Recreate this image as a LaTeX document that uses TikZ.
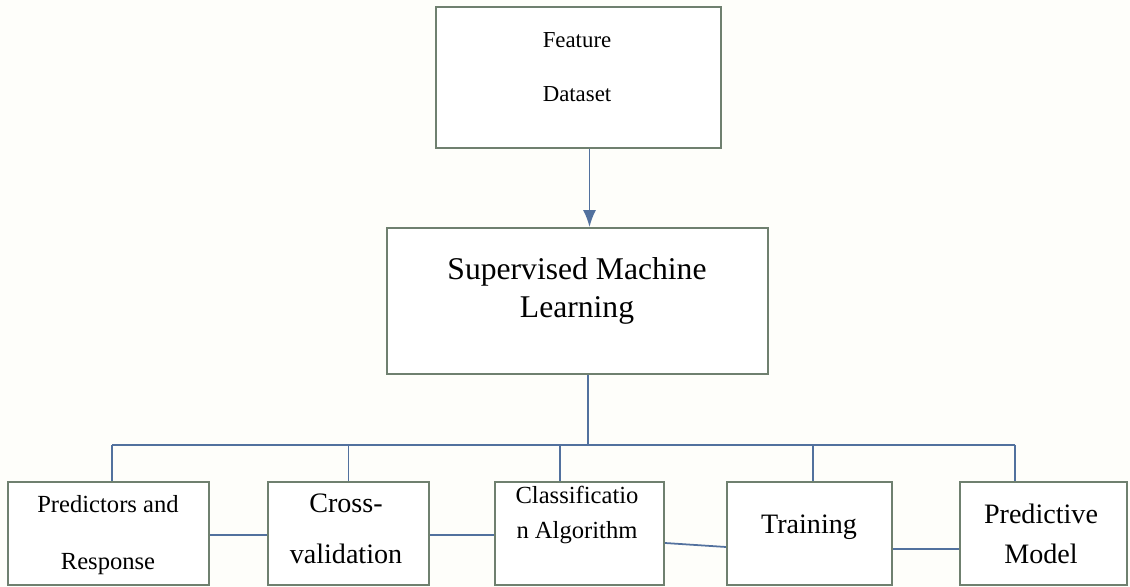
\documentclass[tikz,border=0pt]{standalone}
\usepackage{fontspec}
\setmainfont{Liberation Serif}
\usepackage{tikz}
\usetikzlibrary{arrows,arrows.meta,positioning,calc}
\pgfdeclarelayer{bg}
\pgfsetlayers{bg,main}
\definecolor{boxline}{HTML}{6F806F}
\definecolor{linkline}{HTML}{52719E}
\definecolor{paper}{HTML}{FEFEFA}

\begin{document}
\begin{tikzpicture}[x=0.02cm,y=-0.02cm,
    box/.style={draw=boxline,line width=1.1pt,fill=white,inner sep=0pt},
    txt/.style={align=center,inner sep=0pt},
    link/.style={draw=linkline,line width=1pt}]
    \useasboundingbox (0,0) rectangle (1130,587);

    % boxes
    \node [box,minimum width=5.7cm,minimum height=2.82cm] (fd) at (578.5,77.5) {};
    \node [box,minimum width=7.62cm,minimum height=2.92cm] (sml) at (577.5,301) {};
    \node [box,minimum width=4.02cm,minimum height=2.06cm] (pr) at (108.5,533.5) {};
    \node [box,minimum width=3.22cm,minimum height=2.06cm] (cv) at (348.5,533.5) {};
    \node [box,minimum width=3.38cm,minimum height=2.06cm] (ca) at (579.5,533.5) {};
    \node [box,minimum width=3.3cm,minimum height=2.06cm] (tr) at (809.5,533.5) {};
    \node [box,minimum width=3.34cm,minimum height=2.06cm] (pm) at (1043.5,533.5) {};

    % texts
    \node [txt,font=\fontsize{13}{31}\selectfont] (fdtext) at (577,67) {Feature\\Dataset};
    \node [txt,font=\fontsize{18}{21.5}\selectfont] (smltext) at (577,291) {Supervised Machine\\Learning};
    \node [txt,font=\fontsize{14}{32}\selectfont] (prtext) at (108,535) {Predictors and\\Response};
    \node [txt,font=\fontsize{16}{29}\selectfont] (cvtext) at (346,529) {Cross-\\validation};
    \node [txt,font=\fontsize{14}{20}\selectfont] (catext) at (577,515) {Classificatio\\n Algorithm};
    \node [txt,font=\fontsize{16}{19}\selectfont] (trtext) at (809,527) {Training};
    \node [txt,font=\fontsize{16}{23}\selectfont] (pmtext) at (1041,534) {Predictive\\Model};

    \coordinate (bus) at (0,445);
    \begin{pgfonlayer}{bg}    % paper and links under the boxes
        \fill [paper] (0,0) rectangle (1130,587);
        \draw [link,-{Latex[length=3.4mm,width=2.6mm]}] ([xshift=0.22cm]fd.south) -- ([xshift=0.22cm]fd.south |- sml.north);
        \draw [link] ([xshift=0.21cm]sml.south) -- ([xshift=0.21cm]sml.south |- bus);
        \draw [link] ([xshift=0.07cm]pr.north |- bus) -- ([xshift=-0.57cm]pm.north |- bus);
        \draw [link] ([xshift=0.07cm]pr.north |- bus) -- ([xshift=0.07cm]pr.north);
        \draw [link] (cv.north |- bus) -- (cv.north);
        \draw [link] ([xshift=-0.39cm]ca.north |- bus) -- ([xshift=-0.39cm]ca.north);
        \draw [link] ([xshift=0.07cm]tr.north |- bus) -- ([xshift=0.07cm]tr.north);
        \draw [link] ([xshift=-0.57cm]pm.north |- bus) -- ([xshift=-0.57cm]pm.north);
        \draw [link] ([yshift=-0.03cm]pr.east) -- ([yshift=-0.03cm]cv.west);
        \draw [link] ([yshift=-0.03cm]cv.east) -- ([yshift=-0.03cm]ca.west);
        \draw [link] ([yshift=-0.19cm]ca.east) -- ([yshift=-0.27cm]tr.west);
        \draw [link] ([yshift=-0.31cm]tr.east) -- ([yshift=-0.31cm]pm.west);
    \end{pgfonlayer}
\end{tikzpicture}
\end{document}
